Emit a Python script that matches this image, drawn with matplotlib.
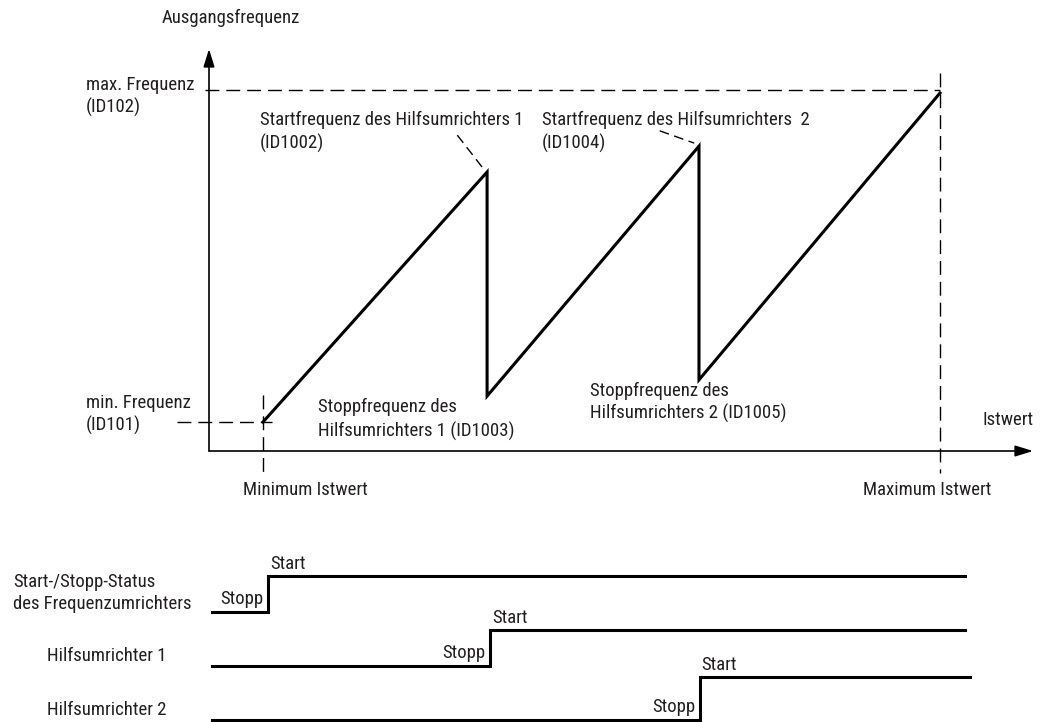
import matplotlib
matplotlib.use('Agg')
import matplotlib.pyplot as plt
from matplotlib import font_manager

# Schrift: schmale Grotesk wie im Original, sonst Ersatz
installed = {f.name for f in font_manager.fontManager.ttflist}
FONT = ['DejaVu Sans']
for name in ['Roboto Condensed', 'Archivo Narrow', 'PT Sans Narrow', 'Liberation Sans']:
    if name in installed:
        FONT = [name, 'DejaVu Sans']
        break
plt.rcParams['font.family'] = FONT

W, H = 1053, 722
TXT = '#231f20'
FS = 13.5

# Sägezahn: Istwert (0 = Minimum, 100 = Maximum) gegen Ausgangsfrequenz (0 = min, 100 = max)
istwert = [0, 33.1, 33.1, 64.4, 64.4, 100]
frequenz = [0, 75.3, 7.8, 83.1, 12.7, 99.1]

# Start-/Stopp-Zustände unten
status_labels = [['Start-/Stopp-Status', 'des Frequenzumrichters'],
                 ['Hilfsumrichter 1'], ['Hilfsumrichter 2']]
switch_at = [0.7, 33.5, 64.5]          # Istwert beim Einschalten
trace_end = [103.7, 103.7, 104.4]
level_low = [612, 666, 720]
level_high = [576, 630, 677]

# Umrechnung Istwert/Frequenz -> Pixel im Original
X0, X100 = 263, 940
F0, F100 = 422, 90
sx = (X100 - X0) / 100.0
sf = (F0 - F100) / 100.0


def px(x, y):
    return x / W, 1 - y / H


fig = plt.figure(figsize=(W / 100, H / 100), dpi=100)

# ---- oberes Diagramm ----
ax_l, ax_r, ax_t, ax_b = 209, 1033, 49, 451
ax = fig.add_axes([ax_l / W, 1 - ax_b / H, (ax_r - ax_l) / W, (ax_b - ax_t) / H])
ax.set_xlim((ax_l - X0) / sx, (ax_r - X0) / sx)
ax.set_ylim((F0 - ax_b) / sf, (F0 - ax_t) / sf)
ax.axis('off')

arrow = dict(arrowstyle='-|>,head_length=0.9,head_width=0.28', color='black', lw=1.2,
             mutation_scale=12, shrinkA=0, shrinkB=0)
ax.annotate('', xy=(0, 1), xytext=(0, 0), xycoords='axes fraction', arrowprops=arrow)
ax.annotate('', xy=(1, 0), xytext=(0, 0), xycoords='axes fraction', arrowprops=arrow)

ax.plot(istwert, frequenz, color='black', lw=2.2, solid_joinstyle='miter', clip_on=False)

dash = dict(color='black', lw=1.0, linestyle=(0, (10, 5)), clip_on=False)
ax.plot([(205 - X0) / sx, 100], [100, 100], **dash)
ax.plot([100, 100], [(F0 - 73) / sf, (F0 - 473) / sf], **dash)
ax.plot([(177 - X0) / sx, (272 - X0) / sx], [0, 0], **dash)
ax.plot([0, 0], [(F0 - 395) / sf, (F0 - 477) / sf], **dash)
# Hinweislinien zu den Startfrequenzen
lead = dict(color='black', lw=1.0, linestyle=(0, (7, 4)), clip_on=False)
ax.plot([28.7, 32.7], [86.4, 75.9], **lead)
ax.plot([58.6, 63.7], [87.7, 84.0], **lead)

texts = [
    ('Ausgangsfrequenz', 162, 18),
    ('max. Frequenz', 86, 85), ('(ID102)', 86, 107),
    ('Startfrequenz des Hilfsumrichters 1', 260, 120), ('(ID1002)', 260, 143),
    ('Startfrequenz des Hilfsumrichters  2', 542, 120), ('(ID1004)', 542, 143),
    ('min. Frequenz', 86, 403), ('(ID101)', 86, 425),
    ('Stoppfrequenz des', 318, 407), ('Hilfsumrichters 1 (ID1003)', 318, 431),
    ('Stoppfrequenz des', 590, 391), ('Hilfsumrichters 2 (ID1005)', 590, 413),
    ('Istwert', 983, 420),
    ('Minimum Istwert', 243, 490),
    ('Maximum Istwert', 863, 490),
]
for s, x, y in texts:
    fig.text(*px(x, y), s, ha='left', va='center', fontsize=FS, color=TXT)

# ---- unteres Diagramm: Start/Stopp ----
ax2 = fig.add_axes([ax_l / W, 0, (ax_r - ax_l) / W, (H - 540) / H])
ax2.set_xlim(ax.get_xlim())
ax2.set_ylim(H, 540)
ax2.axis('off')

x_begin = (212 - X0) / sx
for i in range(3):
    ax2.plot([x_begin, switch_at[i], switch_at[i], trace_end[i]],
             [level_low[i], level_low[i], level_high[i], level_high[i]],
             color='black', lw=2.2, solid_joinstyle='miter', clip_on=False)
    ax2.text(switch_at[i] - 0.6, level_low[i] - 4, 'Stopp', ha='right', va='bottom',
             fontsize=FS, color=TXT)
    ax2.text(switch_at[i] + 0.3, level_high[i] - 3, 'Start', ha='left', va='bottom',
             fontsize=FS, color=TXT)

fig.text(*px(13, 582), status_labels[0][0], ha='left', va='center', fontsize=FS, color=TXT)
fig.text(*px(13, 604), status_labels[0][1], ha='left', va='center', fontsize=FS, color=TXT)
fig.text(*px(47, 656), status_labels[1][0], ha='left', va='center', fontsize=FS, color=TXT)
fig.text(*px(47, 710), status_labels[2][0], ha='left', va='center', fontsize=FS, color=TXT)

fig.savefig('out.png', dpi=100, facecolor='white')
